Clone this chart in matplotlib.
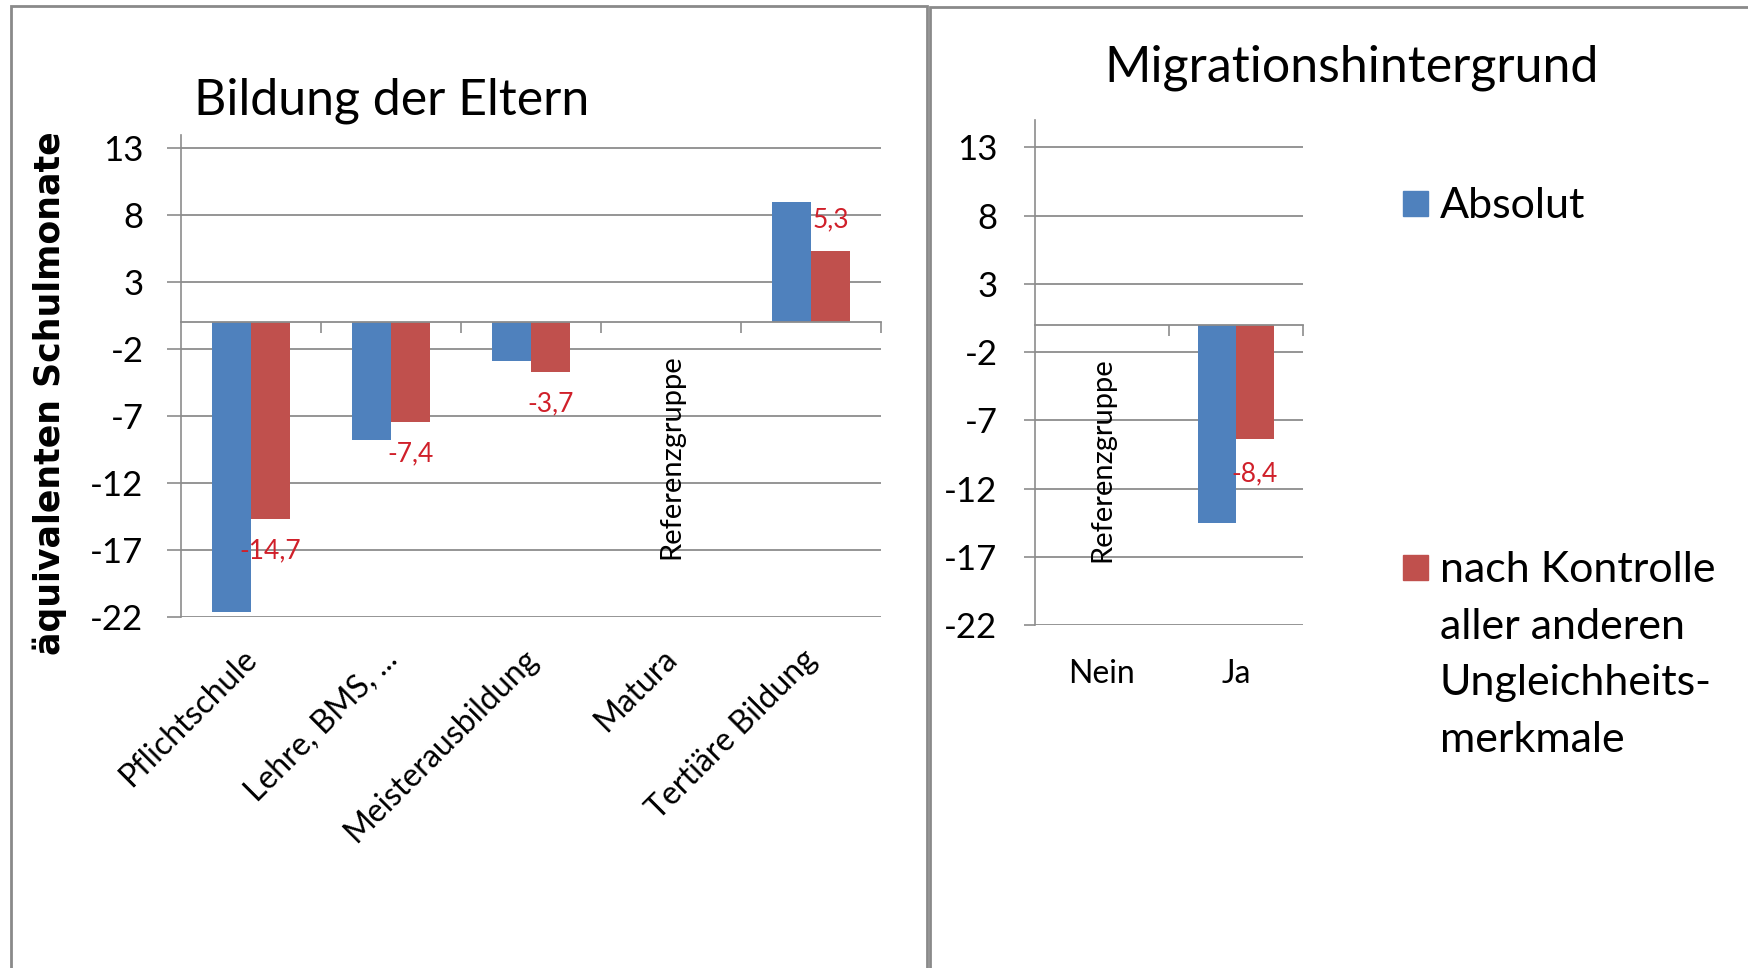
import matplotlib
matplotlib.use("Agg")
import matplotlib.pyplot as plt
import matplotlib.transforms as mtransforms
from matplotlib.patches import Rectangle

# --- data ---------------------------------------------------------------
edu_categories = ["Pflichtschule", "Lehre, BMS, ...", "Meisterausbildung", "Matura", "Tertiäre Bildung"]
edu_absolut = [-21.6, -8.8, -2.9, 0.0, 9.0]
edu_kontrolle = [-14.7, -7.4, -3.7, 0.0, 5.3]
edu_reference = "Matura"

mig_categories = ["Nein", "Ja"]
mig_absolut = [0.0, -14.5]
mig_kontrolle = [0.0, -8.4]
mig_reference = "Nein"

y_ticks = [13, 8, 3, -2, -7, -12, -17, -22]
series_names = ["Absolut", "nach Kontrolle\naller anderen\nUngleichheits-\nmerkmale"]
title_left = "Bildung der Eltern"
title_right = "Migrationshintergrund"
y_label = "äquivalenten Schulmonate"
reference_text = "Referenzgruppe"

# --- style --------------------------------------------------------------
BLUE = "#4F81BD"
RED = "#C0504D"
LABEL_RED = "#D0202A"
GRID = "#8C8C8C"
FRAME = "#8A8A8A"
W, H = 1749, 968
SANS = ["Lato", "DejaVu Sans"]

plt.rcParams["font.family"] = SANS

fig = plt.figure(figsize=(W / 100, H / 100), dpi=100)


def px_axes(x0, y0, x1, y1):
    return fig.add_axes([x0 / W, 1 - y1 / H, (x1 - x0) / W, (y1 - y0) / H])


def fmt(v):
    return f"{v:.1f}".replace(".", ",")


def draw_panel(ax, cats, absolut, kontrolle, reference, ylim,
               label_offset, rotate, tick_len, tick_pad, value_size):
    n = len(cats)
    x = list(range(n))
    bw = 0.28
    ax.bar([i - bw / 2 for i in x], absolut, bw, color=BLUE, zorder=3)
    ax.bar([i + bw / 2 for i in x], kontrolle, bw, color=RED, zorder=3)
    ax.set_xlim(-0.5, n - 0.5)
    ax.set_ylim(*ylim)
    ax.set_yticks(y_ticks)
    ax.set_yticklabels([str(t) for t in y_ticks], fontsize=25)
    ax.tick_params(axis="y", length=tick_len, width=1.2, color=GRID, pad=tick_pad)
    ax.grid(axis="y", color=GRID, linewidth=1.3, zorder=0)
    for s in ("top", "right"):
        ax.spines[s].set_visible(False)
    ax.spines["left"].set_color(GRID)
    ax.spines["left"].set_linewidth(1.2)
    ax.spines["bottom"].set_position(("data", 0))
    ax.spines["bottom"].set_color(GRID)
    ax.spines["bottom"].set_linewidth(1.3)
    ax.spines["bottom"].set_zorder(4)
    ax.set_xticks([i + 0.5 for i in x])
    ax.set_xticklabels([])
    ax.tick_params(axis="x", length=8, width=1.2, color=GRID, direction="out")

    # category labels under the plot area
    trans = mtransforms.blended_transform_factory(ax.transData, ax.transAxes)
    for i, c in enumerate(cats):
        if rotate:
            ax.annotate(c, xy=(i, 0), xycoords=trans, xytext=(1, -27),
                        textcoords="offset points", rotation=45,
                        rotation_mode="anchor", ha="right", va="center",
                        fontsize=23, annotation_clip=False)
        else:
            ax.annotate(c, xy=(i, 0), xycoords=trans, xytext=(0, -35),
                        textcoords="offset points", ha="center", va="center",
                        fontsize=23, annotation_clip=False)

    # value labels for the controlled series
    for i, v in enumerate(kontrolle):
        if cats[i] == reference:
            continue
        off = -label_offset if v < 0 else label_offset
        ax.annotate(fmt(v), xy=(i + bw / 2, v), xytext=(0, off),
                    textcoords="offset points", ha="center", va="center",
                    color=LABEL_RED, fontsize=value_size, zorder=5)

    ref_i = cats.index(reference)
    ax.text(ref_i, -2.4, reference_text, rotation=90, ha="center", va="top",
            fontsize=21, zorder=5)


ax1 = px_axes(181, 135, 881, 617)
draw_panel(ax1, edu_categories, edu_absolut, edu_kontrolle, edu_reference,
           (-22, 14), 23, True, 10, 17, 19)

ax2 = px_axes(1035, 120, 1303, 625)
draw_panel(ax2, mig_categories, mig_absolut, mig_kontrolle, mig_reference,
           (-22, 15), 25, False, 8, 19, 19)

# titles and axis label
fig.text(392 / W, 1 - 101 / H, title_left, ha="center", va="center",
         fontsize=36, fontweight="normal")
fig.text(1352 / W, 1 - 68 / H, title_right, ha="center", va="center",
         fontsize=36)
fig.text(50 / W, 1 - 393 / H, y_label, rotation=90, ha="center", va="center",
         fontsize=25, fontweight="bold", family=["DejaVu Sans"])

# legend keys and labels
key = 25
for (ky, color, name) in [(203, BLUE, series_names[0]), (567, RED, series_names[1])]:
    fig.add_artist(Rectangle((1403 / W, 1 - (ky + key / 2) / H), key / W, key / H,
                             transform=fig.transFigure, color=color))
    fig.text(1440 / W, 1 - (ky - 16) / H, name, ha="left", va="top",
             fontsize=31, linespacing=1.6)

# panel frames
fig.add_artist(Rectangle((11 / W, -0.05), (927 - 11) / W, 1.05 - 6 / H,
                         transform=fig.transFigure, fill=False,
                         edgecolor=FRAME, linewidth=2))
fig.add_artist(Rectangle((930 / W, -0.05), 1.0, 1.05 - 7 / H,
                         transform=fig.transFigure, fill=False,
                         edgecolor=FRAME, linewidth=2))

fig.savefig("out.png", dpi=100)
